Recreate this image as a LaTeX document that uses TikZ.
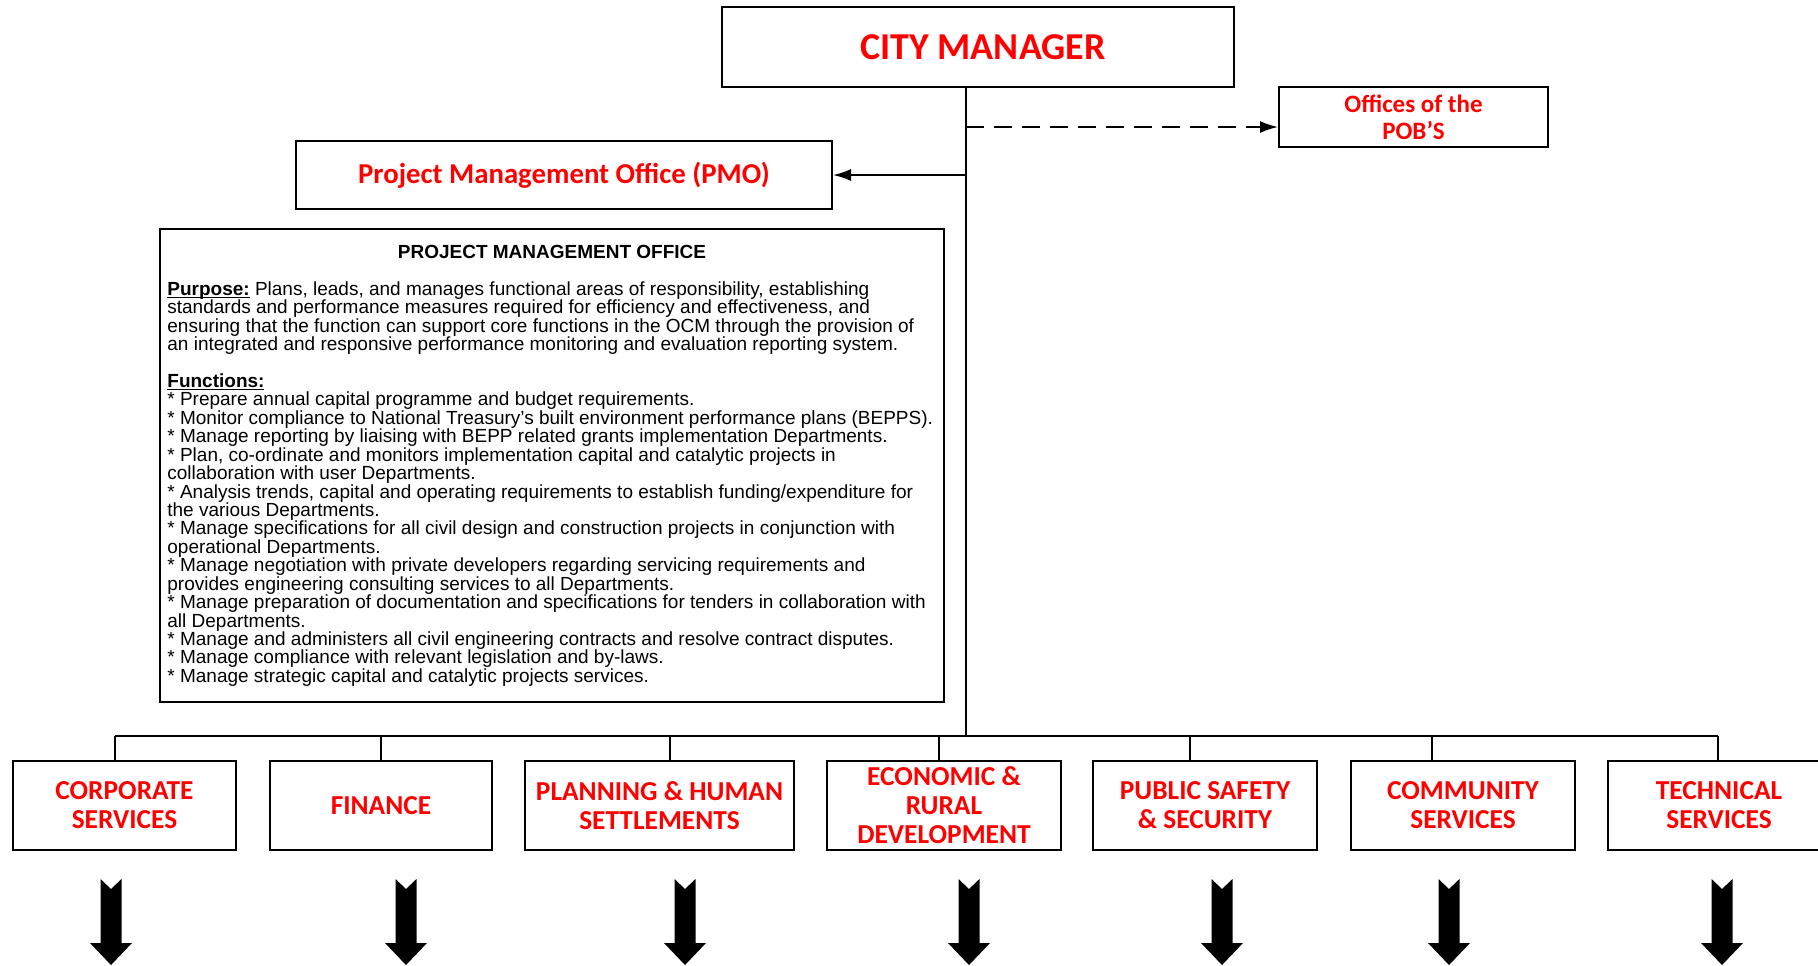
\documentclass[tikz,border=0pt]{standalone}
\usepackage{fontspec}
\setmainfont{Liberation Sans}
\newfontfamily\boxfont{Carlito}
\usetikzlibrary{arrows.meta}
\newcommand\tightlines{\lineskiplimit=-100pt\relax}
\newcommand\ulword[1]{\leavevmode\setbox0\hbox{#1}\rlap{\rule[-1.3pt]{\wd0}{0.6pt}}\box0\relax}

\begin{document}
\begin{tikzpicture}[x=0.5pt, y=-0.5pt,
	unit/.style={draw, line width=1pt, text=red, align=center, inner sep=0pt},
	dept/.style={unit, minimum height=44.5pt, font=\boxfont\bfseries\fontsize{13.7}{14.5}\selectfont},
	link/.style={line width=0.9pt},
	tip/.style={-{Latex[length=9pt, width=6pt]}}]
	\useasboundingbox (0,0) rectangle (1818,965);

	\node[unit, minimum width=256pt, minimum height=40pt, font=\boxfont\bfseries\fontsize{19}{22}\selectfont] (cm) at (978,47) {\hspace*{5pt}CITY MANAGER};
	\node[unit, minimum width=134.5pt, minimum height=30pt, font=\boxfont\bfseries\fontsize{12.5}{13.5}\selectfont] (pobs) at (1413.5,117) {Offices of the\\POB’S};
	\node[unit, minimum width=268pt, minimum height=34pt, font=\boxfont\bfseries\fontsize{14.4}{16}\selectfont] (pmo) at (564,175) {Project Management Office (PMO)};

	\node[draw, line width=1pt, minimum width=392pt, minimum height=236.5pt] (pmobox) at (552,465) {};
	\node[font=\bfseries\fontsize{9.5}{9.22}\selectfont] (pmotitle) at (552,252) {PROJECT MANAGEMENT OFFICE};
	\node[anchor=north west, align=left, inner sep=0pt, font={\fontsize{9.5}{9.22}\selectfont\tightlines}] (pmotext) at (167,281) {%
		\ulword{\textbf{Purpose:}} Plans, leads, and manages functional areas of responsibility, establishing\\
		standards and performance measures required for efficiency and effectiveness, and\\
		ensuring that the function can support core functions in the OCM through the provision of\\
		an integrated and responsive performance monitoring and evaluation reporting system.\\
		~\\
		\ulword{\textbf{Functions:}}\\
		* Prepare annual capital programme and budget requirements.\\
		* Monitor compliance to National Treasury’s built environment performance plans (BEPPS).\\
		* Manage reporting by liaising with BEPP related grants implementation Departments.\\
		* Plan, co-ordinate and monitors implementation capital and catalytic projects in\\
		collaboration with user Departments.\\
		* Analysis trends, capital and operating requirements to establish funding/expenditure for\\
		the various Departments.\\
		* Manage specifications for all civil design and construction projects in conjunction with\\
		operational Departments.\\
		* Manage negotiation with private developers regarding servicing requirements and\\
		provides engineering consulting services to all Departments.\\
		* Manage preparation of documentation and specifications for tenders in collaboration with\\
		all Departments.\\
		* Manage and administers all civil engineering contracts and resolve contract disputes.\\
		* Manage compliance with relevant legislation and by-laws.\\
		* Manage strategic capital and catalytic projects services.};

	\node[dept, minimum width=111.5pt] (corp) at (124.5,805.5) {CORPORATE\\SERVICES};
	\node[dept, minimum width=111pt] (fin) at (381,805.5) {FINANCE};
	\node[dept, minimum width=134.5pt] (plan) at (659.5,805.5) {PLANNING \& HUMAN\\SETTLEMENTS};
	\node[dept, minimum width=117pt] (econ) at (944,805.5) {ECONOMIC \&\\RURAL\\DEVELOPMENT};
	\node[dept, minimum width=112pt] (safety) at (1205,805.5) {PUBLIC SAFETY\\\& SECURITY};
	\node[dept, minimum width=112pt] (comm) at (1463,805.5) {COMMUNITY\\SERVICES};
	\node[dept, minimum width=111pt] (tech) at (1719,805.5) {TECHNICAL\\SERVICES};

	\coordinate (trunk) at (966,736);
	\coordinate (pobsin) at ([yshift=-5pt]pobs.west);
	\coordinate (b1) at (115,736);
	\coordinate (b2) at (381,736);
	\coordinate (b3) at (670,736);
	\coordinate (b4) at (939,736);
	\coordinate (b5) at (1190,736);
	\coordinate (b6) at (1432,736);
	\coordinate (b7) at (1718,736);

	\draw[link] (trunk |- cm.south) -- (trunk);
	\draw[link] (b1) -- (b7);
	\foreach \b/\d in {b1/corp, b2/fin, b3/plan, b4/econ, b5/safety, b6/comm, b7/tech}
		\draw[link] (\b) -- (\b |- \d.north);
	\draw[link, tip] (trunk |- pmo.east) -- (pmo.east);
	\draw[link, tip, dash pattern=on 9pt off 5pt] (trunk |- pobsin) -- (pobsin);

	\foreach \x in {111,406,685,969,1222,1449,1722}
		\fill (\x-10.5,879) -- (\x,889) -- (\x+10.5,879) -- (\x+10.5,943) -- (\x+21,943) -- (\x,965) -- (\x-21,943) -- (\x-10.5,943) -- cycle;
\end{tikzpicture}
\end{document}
